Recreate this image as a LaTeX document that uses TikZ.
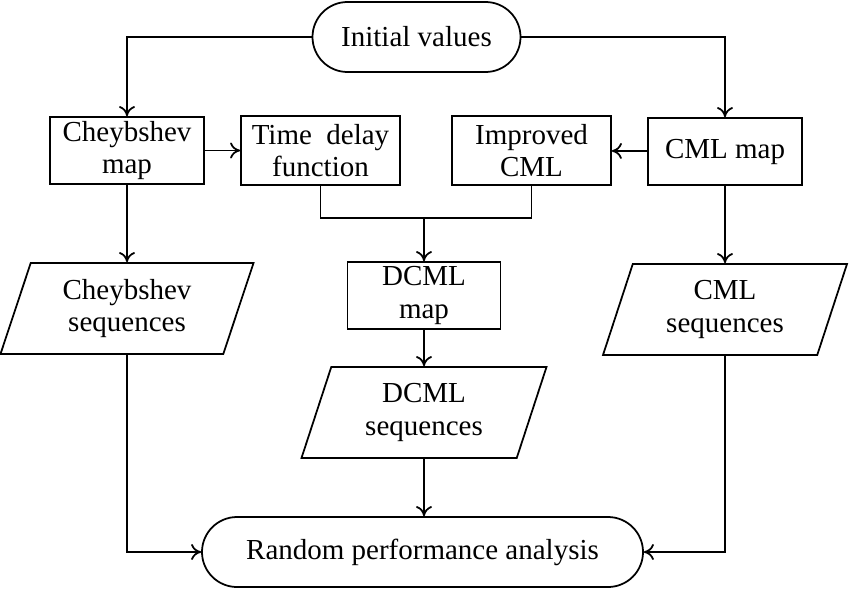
\documentclass[tikz,border=0pt]{standalone}
\usepackage{fontspec}
\setmainfont{Liberation Serif}
\usetikzlibrary{arrows.meta, positioning, calc, shapes.geometric}
\tikzset{
    procbox/.style={rectangle, draw, line width=1pt, align=center, inner sep=1pt,
                    font=\fontsize{16.5}{18.3}\selectfont},
    termbox/.style={procbox, rounded corners=7mm, minimum height=14mm},
    iobox/.style={trapezium, draw, line width=1pt, align=center, inner sep=1pt,
                  trapezium left angle=64, trapezium right angle=116,
                  trapezium stretches body, minimum height=18.2mm,
                  font=\fontsize{16.5}{18.3}\selectfont},
    edge/.style={->, >={To[length=2mm, width=3.2mm]}, line width=1pt},
    uedge/.style={-, line width=1pt},
}

\begin{document}
\begin{tikzpicture}[x=0.2mm, y=-0.2mm]
    \useasboundingbox (0,0) rectangle (850,588);
    \node[termbox, minimum width=41.6mm] (init) at (416.5,37) {Initial values};
    \node[procbox, minimum width=30.8mm, minimum height=13.4mm] (cheb) at (127,150.5) {Cheybshev\\map};
    \node[procbox, minimum width=31.8mm, minimum height=13.8mm] (delay) at (320.5,150.5) {Time\enspace delay\\function};
    \node[procbox, minimum width=31.8mm, minimum height=13.8mm] (impr) at (531.5,150.5) {Improved\\CML};
    \node[procbox, minimum width=30.8mm, minimum height=13.4mm] (cml) at (725,151.5) {CML map};
    \node[iobox, minimum width=50.6mm] (chebseq) at (127,308.5) {Cheybshev\\sequences};
    \node[procbox, minimum width=30.6mm, minimum height=13.4mm] (dcml) at (424,295.5) {DCML\\map};
    \node[iobox, minimum width=49mm] (dcmlseq) at (424,412.5) {DCML\\sequences};
    \node[iobox, minimum width=48.8mm] (cmlseq) at (725,309.5) {CML\\sequences};
    \node[termbox, minimum width=88.2mm] (rand) at (422.5,552) {Random performance analysis};
    \coordinate (merge) at (424,218);

    \draw[edge] (init.west) -| (cheb.north);
    \draw[edge] (init.east) -| (cml.north);
    \draw[edge] (cheb) -- (delay);
    \draw[edge] (cml) -- (impr);
    \draw[uedge] (delay.south) |- (merge) -| (impr.south);
    \draw[edge] (merge) -- (dcml.north);
    \draw[edge] (cheb) -- (chebseq);
    \draw[edge] (dcml) -- (dcmlseq);
    \draw[edge] (cml) -- (cmlseq);
    \draw[edge] (dcmlseq.south) -- (dcmlseq.south |- rand.north);
    \draw[edge] (chebseq.south) |- (rand.west);
    \draw[edge] (cmlseq.south) |- (rand.east);
\end{tikzpicture}
\end{document}
